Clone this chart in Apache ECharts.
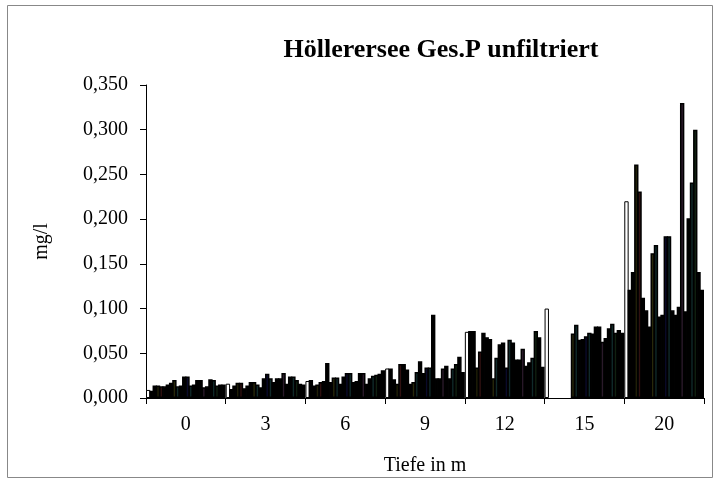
<!DOCTYPE html>
<html>
<head>
<meta charset="utf-8">
<script src="https://cdn.jsdelivr.net/npm/echarts@6/dist/echarts.min.js"></script>
<style>
  html, body { margin: 0; padding: 0; background: #fff; }
  #chart { width: 720px; height: 484px; }
</style>
</head>
<body>
<div id="chart"></div>
<script>
// Tiefen (Kategorien)
var depths = ['0', '3', '6', '9', '12', '15', '20'];

// Ges.P in mg/l, je Tiefe 24 Probentermine
var d0  = [0.009, 0.008, 0.014, 0.014, 0.013, 0.013, 0.015, 0.017, 0.020, 0.013, 0.014, 0.024, 0.024, 0.014, 0.015, 0.020, 0.020, 0.012, 0.013, 0.021, 0.020, 0.014, 0.015, 0.015];
var d3  = [0.016, 0.010, 0.014, 0.017, 0.017, 0.011, 0.014, 0.018, 0.018, 0.015, 0.012, 0.022, 0.027, 0.022, 0.018, 0.022, 0.022, 0.028, 0.016, 0.024, 0.024, 0.020, 0.016, 0.015];
var d6  = [0.019, 0.020, 0.014, 0.015, 0.018, 0.019, 0.039, 0.018, 0.023, 0.023, 0.016, 0.024, 0.028, 0.028, 0.018, 0.019, 0.028, 0.028, 0.016, 0.022, 0.025, 0.026, 0.027, 0.031];
var d9  = [0.033, 0.033, 0.021, 0.016, 0.038, 0.038, 0.032, 0.016, 0.018, 0.029, 0.041, 0.028, 0.034, 0.034, 0.093, 0.022, 0.022, 0.033, 0.036, 0.022, 0.033, 0.038, 0.046, 0.029];
var d12 = [0.074, 0.075, 0.075, 0.034, 0.052, 0.073, 0.068, 0.066, 0.022, 0.045, 0.060, 0.062, 0.034, 0.065, 0.062, 0.043, 0.043, 0.055, 0.036, 0.040, 0.045, 0.075, 0.068, 0.035];
var d15 = [0.100, null, null, null, null, null, null, null, 0.072, 0.082, 0.065, 0.066, 0.069, 0.073, 0.072, 0.080, 0.080, 0.063, 0.067, 0.078, 0.083, 0.073, 0.076, 0.073];
var d20 = [0.220, 0.121, 0.141, 0.261, 0.231, 0.112, 0.098, 0.080, 0.162, 0.171, 0.091, 0.093, 0.181, 0.181, 0.098, 0.093, 0.102, 0.330, 0.097, 0.201, 0.241, 0.300, 0.141, 0.121];

// Füllfarben der Termine (fast alle schwarz, schmale Balken)
var fills = ['#ffffff', '#000000', '#000000', '#202008', '#301010', '#000000', '#000000', '#000000',
             '#28280a', '#102a2a', '#000000', '#000000', '#0a0a2a', '#102a2a', '#000000', '#000000',
             '#000000', '#2a1a2a', '#000000', '#000000', '#102a2a', '#102010', '#000000', '#000000'];

var byDepth = [d0, d3, d6, d9, d12, d15, d20];
var font = 'Liberation Serif, Times New Roman, serif';

var series = [];
for (var i = 0; i < d0.length; i++) {
	var data = [];
	for (var k = 0; k < byDepth.length; k++) {
		data.push(byDepth[k][i] == null ? '-' : byDepth[k][i]);
	}
	series.push({
		name: 'T' + (i + 1),
		type: 'bar',
		barGap: '-25%',
		barCategoryGap: '0%',
		itemStyle: {
			color: fills[i],
			borderColor: '#000',
			borderWidth: i == 0 ? 1 : 1.5
		},
		data: data
	});
}

var chart = echarts.init(document.getElementById('chart'), null, { renderer: 'canvas' });
var option = {
	animation: false,
	backgroundColor: '#fff',
	title: {
		text: 'Höllerersee Ges.P unfiltriert',
		left: 436,
		top: 32,
		textAlign: 'center',
		textStyle: { fontFamily: font, fontSize: 26, fontWeight: 'bold', color: '#000' }
	},
	graphic: [{
		type: 'rect',
		shape: { x: 7.5, y: 5.5, width: 705, height: 472 },
		style: { fill: 'none', stroke: '#888', lineWidth: 1 },
		silent: true
	}],
	grid: { left: 146, right: 16, top: 85, bottom: 86 },
	xAxis: {
		type: 'category',
		data: depths,
		name: 'Tiefe in m',
		nameLocation: 'middle',
		nameGap: 58,
		nameTextStyle: { fontFamily: font, fontSize: 20, color: '#000' },
		axisLine: { lineStyle: { color: '#000', width: 1 } },
		axisTick: { show: true, alignWithLabel: false, length: 6, lineStyle: { color: '#000' } },
		axisLabel: { fontFamily: font, fontSize: 20, color: '#000', margin: 17 }
	},
	yAxis: {
		type: 'value',
		min: 0,
		max: 0.35,
		interval: 0.05,
		name: 'mg/l',
		nameLocation: 'middle',
		nameGap: 94,
		nameRotate: 90,
		nameTextStyle: { fontFamily: font, fontSize: 20, color: '#000' },
		splitLine: { show: false },
		axisLine: { show: true, lineStyle: { color: '#000', width: 1 } },
		axisTick: { show: true, length: 6, lineStyle: { color: '#000' } },
		axisLabel: {
			fontFamily: font, fontSize: 20, color: '#000', margin: 18,
			formatter: function (v) { return v.toFixed(3).replace('.', ','); }
		}
	},
	series: series
};
chart.setOption(option);
</script>
</body>
</html>
